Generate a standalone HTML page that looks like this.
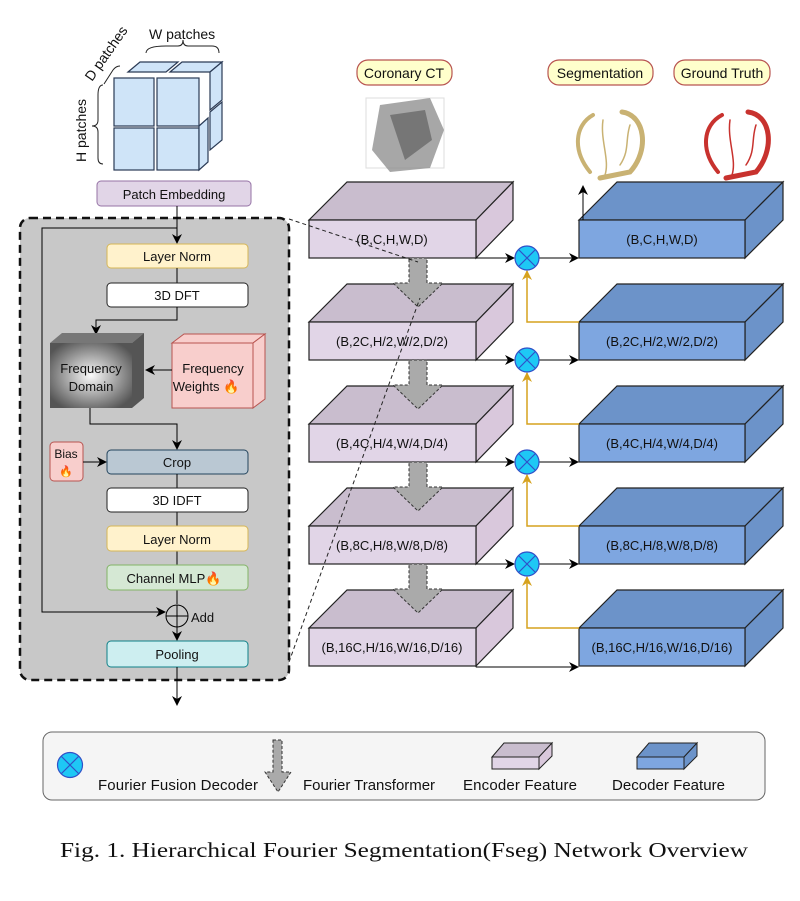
<!DOCTYPE html>
<html><head><meta charset="utf-8"><style>
html,body{margin:0;padding:0;background:#fff}
svg{display:block}
text{font-family:"Liberation Sans",sans-serif;fill:#111}
</style></head><body>
<svg width="800" height="901" viewBox="0 0 800 901" xmlns="http://www.w3.org/2000/svg">
<defs>
<marker id="ar" markerWidth="10" markerHeight="10" refX="9" refY="5" orient="auto" markerUnits="userSpaceOnUse"><path d="M0,0 L10,5 L0,10 L3,5 z" fill="#000"/></marker>
<marker id="ao" markerWidth="10" markerHeight="10" refX="9" refY="5" orient="auto" markerUnits="userSpaceOnUse"><path d="M0,0 L10,5 L0,10 L3,5 z" fill="#d6a21e"/></marker>
<radialGradient id="fg" cx="50%" cy="50%" r="60%"><stop offset="0" stop-color="#fafafa"/><stop offset="1" stop-color="#555"/></radialGradient>
</defs>

<g stroke="#2a3a55" stroke-width="1.2" fill="#cfe4f8">
<polygon points="128,72 140,62 178,62 166,72"/><polygon points="170,72 182,62 222,62 210,72" />
<polygon points="210,72 222,62 222,100 210,110"/><polygon points="210,112 222,102 222,140 210,150"/>
<rect x="114" y="78" width="40" height="48"/><rect x="157" y="78" width="42" height="48"/>
<rect x="114" y="128" width="40" height="42"/><rect x="157" y="128" width="42" height="42"/>
<polygon points="199,126 208,118 208,162 199,170"/>
</g>
<path d="M146,53 Q146,46 166,46 L178,46 Q183,46 183,40 Q183,46 188,46 L212,46 Q219,46 219,53" fill="none" stroke="#222" stroke-width="1"/>
<path d="M103,85 Q98,85 98,95 L98,120 Q98,126 92,126 Q98,126 98,132 L98,158 Q98,164 103,164" fill="none" stroke="#222" stroke-width="1"/>
<path d="M104,84 L113,70 Q116,66 120,66" fill="none" stroke="#222" stroke-width="1"/>
<text x="149" y="39" font-size="14">W patches</text>
<text x="0" y="0" font-size="14" transform="translate(92,82) rotate(-55)">D patches</text>
<text x="0" y="0" font-size="14" transform="translate(86,162) rotate(-90)">H patches</text>

<rect x="20" y="218" width="269" height="462" rx="10" fill="#c8c8c8" stroke="#111" stroke-width="2.5" stroke-dasharray="8,5"/>
<rect x="97" y="181" width="154" height="25" rx="4" fill="#e1d5e7" stroke="#9673a6"/>
<text x="174" y="199" font-size="13" text-anchor="middle">Patch Embedding</text>
<line x1="177" y1="206" x2="177" y2="243" stroke="#000" marker-end="url(#ar)"/>
<polyline points="177,228 42,228 42,612 165,612" fill="none" stroke="#000" marker-end="url(#ar)"/>
<rect x="107" y="244" width="141" height="24" rx="4" fill="#fff2cc" stroke="#d6b656"/>
<text x="177" y="261" font-size="13" text-anchor="middle">Layer Norm</text>
<line x1="177" y1="268" x2="177" y2="283" stroke="#000"/>
<rect x="107" y="283" width="141" height="24" rx="4" fill="#fff" stroke="#222"/>
<text x="177" y="300" font-size="13" text-anchor="middle">3D DFT</text>
<polyline points="177,307 177,320 96,320 96,334" fill="none" stroke="#000" marker-end="url(#ar)"/>
<polygon points="50,343 62,333 144,333 132,343" fill="#777"/>
<polygon points="132,343 144,333 144,398 132,408" fill="#555"/>
<rect x="50" y="343" width="82" height="65" fill="url(#fg)"/>
<text x="91" y="373" font-size="13" text-anchor="middle">Frequency</text>
<text x="91" y="391" font-size="13" text-anchor="middle">Domain</text>
<g stroke="#b85450" fill="#f8cecc">
<polygon points="172,343 184,334 265,334 253,343"/>
<polygon points="253,343 265,334 265,399 253,408"/>
<rect x="172" y="343" width="81" height="65"/>
</g>
<text x="213" y="373" font-size="13" text-anchor="middle">Frequency</text>
<text x="206" y="391" font-size="13" text-anchor="middle">Weights 🔥</text>
<line x1="172" y1="370" x2="146" y2="370" stroke="#000" marker-end="url(#ar)"/>
<polyline points="90,408 90,424 177,424 177,449" fill="none" stroke="#000" marker-end="url(#ar)"/>
<rect x="50" y="442" width="33" height="39" rx="4" fill="#f8cecc" stroke="#b85450"/>
<text x="66" y="458" font-size="12" text-anchor="middle">Bias</text>
<text x="66" y="475" font-size="11" text-anchor="middle">🔥</text>
<line x1="83" y1="462" x2="106" y2="462" stroke="#000" marker-end="url(#ar)"/>
<rect x="107" y="450" width="141" height="24" rx="4" fill="#bac8d3" stroke="#23445d"/>
<text x="177" y="467" font-size="13" text-anchor="middle">Crop</text>
<line x1="177" y1="474" x2="177" y2="604" stroke="#000"/>
<rect x="107" y="488" width="141" height="24" rx="4" fill="#fff" stroke="#222"/>
<text x="177" y="505" font-size="13" text-anchor="middle">3D IDFT</text>
<rect x="107" y="526" width="141" height="25" rx="4" fill="#fff2cc" stroke="#d6b656"/>
<text x="177" y="544" font-size="13" text-anchor="middle">Layer Norm</text>
<rect x="107" y="565" width="141" height="25" rx="4" fill="#d5e8d4" stroke="#82b366"/>
<text x="174" y="583" font-size="13" text-anchor="middle">Channel MLP🔥</text>
<circle cx="177" cy="616" r="11" fill="none" stroke="#000"/>
<line x1="166" y1="616" x2="188" y2="616" stroke="#000"/><line x1="177" y1="605" x2="177" y2="627" stroke="#000"/>
<text x="191" y="622" font-size="13">Add</text>
<line x1="177" y1="627" x2="177" y2="640" stroke="#000" marker-end="url(#ar)"/>
<rect x="107" y="641" width="141" height="26" rx="4" fill="#cdeef0" stroke="#0e8088"/>
<text x="177" y="659" font-size="13" text-anchor="middle">Pooling</text>
<line x1="177" y1="667" x2="177" y2="705" stroke="#000" marker-end="url(#ar)"/>

<g stroke="#b85450" stroke-width="1.2" fill="#ffffcc">
<rect x="357" y="60" width="95" height="25" rx="11"/>
<rect x="548" y="60" width="105" height="25" rx="11"/>
<rect x="674" y="60" width="96" height="25" rx="11"/>
</g>
<text x="404" y="78" font-size="14" text-anchor="middle">Coronary CT</text>
<text x="600" y="78" font-size="14" text-anchor="middle">Segmentation</text>
<text x="722" y="78" font-size="14" text-anchor="middle">Ground Truth</text>
<g>
<rect x="366" y="98" width="78" height="70" fill="none" stroke="#ddd"/>
<path d="M380,105 L430,98 L444,130 L430,168 L390,172 L372,150 Z" fill="#8a8a8a" opacity="0.75"/>
<path d="M390,115 L425,110 L432,140 L405,160 Z" fill="#555" opacity="0.6"/>
</g>
<g fill="none" stroke="#c9b273" stroke-linecap="round">
<path d="M593,115 C575,125 572,150 590,172" stroke-width="4"/>
<path d="M622,112 C645,115 650,150 630,172 L600,178" stroke-width="5"/>
<path d="M603,120 C600,140 610,160 605,175" stroke-width="1.5"/>
<path d="M630,125 C625,140 630,150 620,165" stroke-width="1.5"/>
</g>
<g fill="none" stroke="#c8322e" stroke-linecap="round">
<path d="M722,115 C703,125 700,150 718,172" stroke-width="4"/>
<path d="M748,112 C772,115 775,150 756,172 L726,178" stroke-width="5"/>
<path d="M730,120 C727,140 737,160 732,175" stroke-width="1.5"/>
<path d="M756,125 C751,140 756,150 746,165" stroke-width="1.5"/>
</g>

<g stroke="#222" stroke-width="1.2">
<g id="enc">
<polygon points="309,220 347,182 513,182 476,220" fill="#c9bdce"/>
<polygon points="476,220 513,182 513,220 476,258" fill="#d9c8dc"/>
<rect x="309" y="220" width="167" height="38" fill="#e1d5e7"/>
</g>
<use href="#enc" y="102"/><use href="#enc" y="204"/><use href="#enc" y="306"/><use href="#enc" y="408"/>
<g id="dec">
<polygon points="579,220 617,182 783,182 745,220" fill="#6c93c9"/>
<polygon points="745,220 783,182 783,220 745,258" fill="#6c93c9"/>
<rect x="579" y="220" width="166" height="38" fill="#7ea6e0"/>
</g>
<use href="#dec" y="102"/><use href="#dec" y="204"/><use href="#dec" y="306"/><use href="#dec" y="408"/>
</g>
<g font-size="13" text-anchor="middle">
<text x="392" y="244">(B,C,H,W,D)</text>
<text x="392" y="346">(B,2C,H/2,W/2,D/2)</text>
<text x="392" y="448">(B,4C,H/4,W/4,D/4)</text>
<text x="392" y="550">(B,8C,H/8,W/8,D/8)</text>
<text x="392" y="652">(B,16C,H/16,W/16,D/16)</text>
<text x="662" y="244">(B,C,H,W,D)</text>
<text x="662" y="346">(B,2C,H/2,W/2,D/2)</text>
<text x="662" y="448">(B,4C,H/4,W/4,D/4)</text>
<text x="662" y="550">(B,8C,H/8,W/8,D/8)</text>
<text x="662" y="652">(B,16C,H/16,W/16,D/16)</text>
</g>
<g id="ga" fill="#aaa" stroke="#333" stroke-dasharray="3,2">
<polygon points="409,258 427,258 427,283 443,283 418,307 393,283 409,283"/>
</g>
<use href="#ga" y="102"/><use href="#ga" y="204"/><use href="#ga" y="306"/>
<g stroke="#000" fill="none">
<line x1="476" y1="258" x2="514" y2="258" marker-end="url(#ar)"/>
<line x1="539" y1="258" x2="578" y2="258" marker-end="url(#ar)"/>
<line x1="476" y1="360" x2="514" y2="360" marker-end="url(#ar)"/>
<line x1="539" y1="360" x2="578" y2="360" marker-end="url(#ar)"/>
<line x1="476" y1="462" x2="514" y2="462" marker-end="url(#ar)"/>
<line x1="539" y1="462" x2="578" y2="462" marker-end="url(#ar)"/>
<line x1="476" y1="564" x2="514" y2="564" marker-end="url(#ar)"/>
<line x1="539" y1="564" x2="578" y2="564" marker-end="url(#ar)"/>
<line x1="476" y1="667" x2="578" y2="667" marker-end="url(#ar)"/>
<line x1="583" y1="220" x2="583" y2="186" marker-end="url(#ar)"/>
</g>
<g stroke="#d6a21e" stroke-width="1.5" fill="none">
<polyline points="579,322 527,322 527,271" marker-end="url(#ao)"/>
<polyline points="579,424 527,424 527,373" marker-end="url(#ao)"/>
<polyline points="579,526 527,526 527,475" marker-end="url(#ao)"/>
<polyline points="579,628 527,628 527,577" marker-end="url(#ao)"/>
</g>
<g id="ff">
<circle cx="527" cy="258" r="12" fill="#1ec8f5" stroke="#3050c8" stroke-width="1.2"/>
<path d="M519,250 L535,266 M535,250 L519,266" stroke="#3050c8" stroke-width="1.2"/>
</g>
<use href="#ff" y="102"/><use href="#ff" y="204"/><use href="#ff" y="306"/>
<line x1="289" y1="219" x2="418" y2="262" stroke="#222" stroke-dasharray="4,3"/>
<line x1="289" y1="662" x2="420" y2="298" stroke="#222" stroke-dasharray="4,3"/>

<!-- legend -->
<rect x="43" y="732" width="722" height="68" rx="9" fill="#f5f5f5" stroke="#666"/>
<circle cx="70" cy="765" r="12.5" fill="#1ec8f5" stroke="#3050c8" stroke-width="1.2"/>
<path d="M61,756 L79,774 M79,756 L61,774" stroke="#3050c8" stroke-width="1.2"/>
<text x="98" y="790" font-size="15" fill="#333" textLength="160">Fourier Fusion Decoder</text>
<polygon points="273,740 282,740 282,772 291,772 278,792 265,772 273,772" fill="#aaa" stroke="#333" stroke-dasharray="3,2"/>
<text x="303" y="790" font-size="15" fill="#333" textLength="132">Fourier Transformer</text>
<polygon points="492,757 504,743 552,743 539,757" fill="#c9bdce" stroke="#222"/>
<polygon points="539,757 552,743 552,756 539,769" fill="#d9c8dc" stroke="#222"/>
<rect x="492" y="757" width="47" height="12" fill="#e1d5e7" stroke="#222"/>
<text x="463" y="790" font-size="15" fill="#333" textLength="114">Encoder Feature</text>
<polygon points="637,757 649,743 697,743 684,757" fill="#6c93c9" stroke="#222"/>
<polygon points="684,757 697,743 697,756 684,769" fill="#6c93c9" stroke="#222"/>
<rect x="637" y="757" width="47" height="12" fill="#7ea6e0" stroke="#222"/>
<text x="612" y="790" font-size="15" fill="#333" textLength="113">Decoder Feature</text>

<text x="60" y="857" font-size="21" textLength="688" lengthAdjust="spacingAndGlyphs" style="font-family:'Liberation Serif',serif">Fig. 1.  Hierarchical Fourier Segmentation(Fseg) Network Overview</text>
</svg>
</body></html>
